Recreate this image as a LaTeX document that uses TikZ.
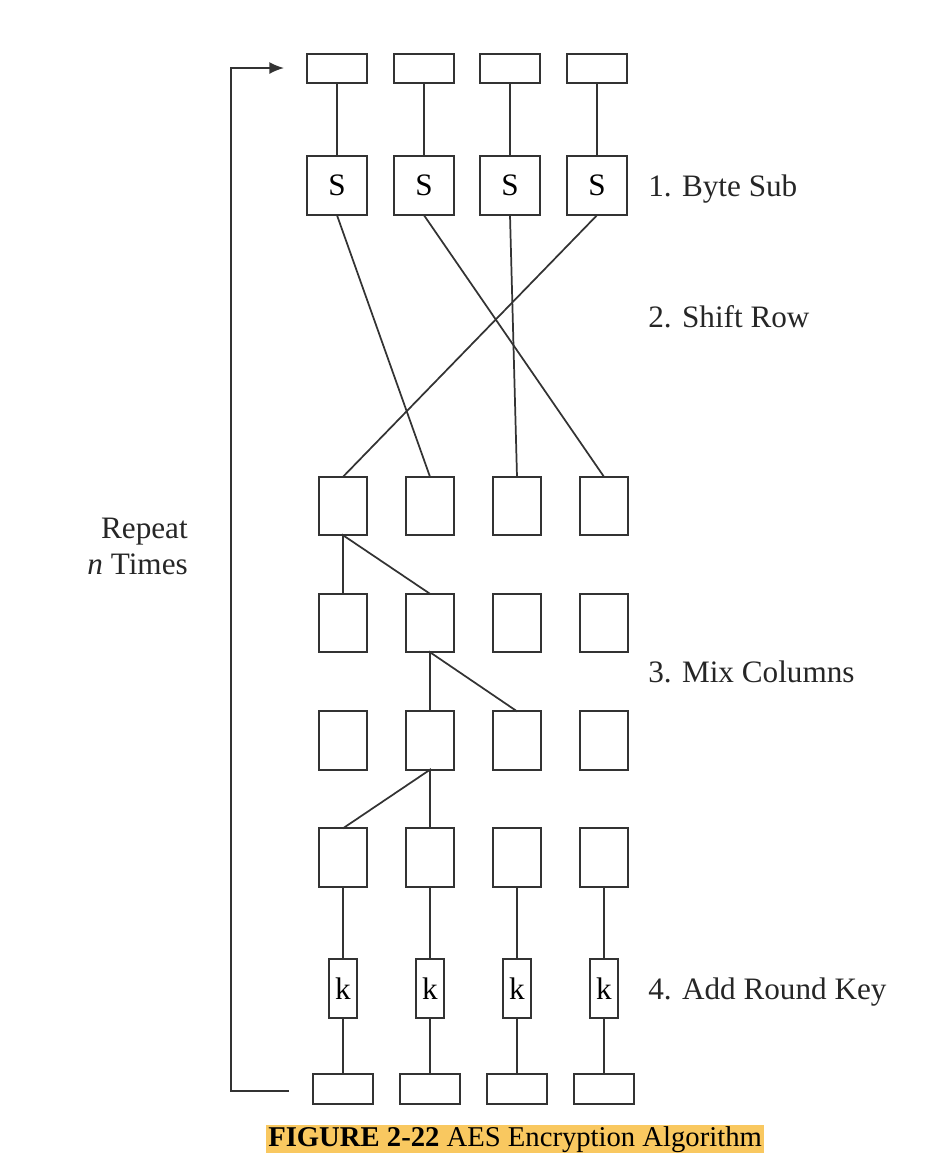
\documentclass[tikz,border=0pt]{standalone}
\usepackage{fontspec}
\setmainfont{Liberation Serif}
\usetikzlibrary{arrows.meta}
\definecolor{captionbg}{RGB}{249,200,96}

\begin{document}
\begin{tikzpicture}[x=0.75pt,y=-0.75pt,
  box/.style={draw=black!80,line width=1.5pt,inner sep=0pt,outer sep=0pt,
    font=\fontsize{23.4}{27}\selectfont},
  inbox/.style={box,minimum width=44.6pt,minimum height=22.1pt},
  sbox/.style={box,minimum width=44.6pt,minimum height=44.6pt},
  cell/.style={box,minimum width=35.6pt,minimum height=43.8pt},
  kbox/.style={box,minimum width=21.3pt,minimum height=44.6pt},
  outbox/.style={box,minimum width=44.6pt,minimum height=22.8pt},
  wire/.style={draw=black!80,line width=1.3pt},
  steptext/.style={inner sep=0pt,font=\fontsize{23.4}{27}\selectfont,text=black!85}]
  \useasboundingbox (0,0) rectangle (932,1158);
  % input bytes and S-boxes
  \foreach \x [count=\i] in {337,424,510,597} {
    \node[inbox] (in\i) at (\x,68.5) {};
    \node[sbox] (s\i) at (\x,185.5) {S};
    \draw[wire] (in\i) -- (s\i);
  }
  % state cells, round key and output
  \foreach \x [count=\i] in {343,430,517,604} {
    \foreach \y [count=\r] in {506,623,740.5,857.5}
      \node[cell] (m\r\i) at (\x,\y) {};
    \node[kbox] (k\i) at (\x,988.5) {k};
    \node[outbox] (out\i) at (\x,1089) {};
    \draw[wire] (m4\i) -- (k\i) -- (out\i);
  }
  % shift row
  \foreach \a/\b in {1/2,2/4,3/3,4/1}
    \draw[wire] (s\a.south) -- (m1\b.north);
  % mix columns
  \draw[wire] (m21.north) -- (m11.south) -- (m22.north);
  \draw[wire] (m32.north) -- (m22.south) -- (m33.north);
  \draw[wire] (m41.north) -- (m32.south) -- (m42.north);
  % repeat loop
  \coordinate (loopfoot) at (289,1091);
  \coordinate (loophead) at (284,68);
  \draw[wire,-{Latex[length=11pt,width=9pt]}] (loopfoot) -- (231,1091) |- (loophead);
  \node[steptext,anchor=base east] (repeat) at (188,538) {Repeat};
  \node[steptext,anchor=base east] (ntimes) at (188,574) {\textit{n} Times};
  % step labels
  \node[steptext,anchor=base west] (bytesub) at (648,196) {1. Byte Sub};
  \node[steptext,anchor=base west] (shiftrow) at (648,327) {2. Shift Row};
  \node[steptext,anchor=base west] (mixcol) at (648,682) {3. Mix Columns};
  \node[steptext,anchor=base west] (addkey) at (648,999) {4. Add Round Key};
  % caption
  \node[fill=captionbg,anchor=base west,inner xsep=1.5pt,inner ysep=0pt,
    text height=15.75pt,text depth=5.25pt,font=\fontsize{21.5}{24}\selectfont]
    (caption) at (266,1146) {\textbf{FIGURE 2-22} AES Encryption Algorithm};
\end{tikzpicture}
\end{document}
